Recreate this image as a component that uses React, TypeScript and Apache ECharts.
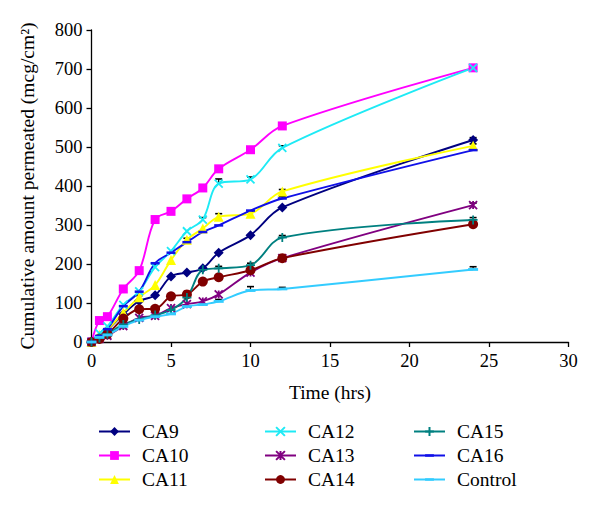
import React, { useEffect, useRef } from "react";
import * as echarts from "echarts";

const times = [0, 0.5, 1, 2, 3, 4, 5, 6, 7, 8, 10, 12, 24];

const ca9 = [0, 12, 30, 71, 105, 120, 168, 178, 189, 229, 274, 345, 518];
const ca10 = [0, 55, 65, 136, 183, 314, 335, 367, 395, 444, 493, 554, 703];
const ca11 = [0, 18, 32, 75, 115, 146, 210, 262, 291, 321, 329, 386, 503];
const ca12 = [0, 22, 40, 95, 130, 192, 233, 284, 314, 406, 417, 498, 703];
const ca13 = [0, 8, 16, 41, 62, 67, 87, 97, 104, 122, 178, 215, 351];
const ca14 = [0, 8, 20, 60, 84, 85, 117, 122, 155, 166, 184, 215, 302];
const ca15 = [0, 10, 20, 45, 58, 69, 82, 114, 185, 189, 197, 268, 313];
const ca16 = [0, 15, 33, 92, 129, 202, 229, 256, 282, 299, 337, 368, 492];
const control = [0, 12, 18, 40, 56, 65, 72, 91, 96, 104, 132, 136, 186];

// upper error-bar lengths (only those visible in the picture)
const ca9Err = [0, 0, 0, 0, 0, 0, 0, 0, 0, 0, 0, 0, 6];
const ca10Err = [0, 0, 0, 0, 0, 0, 0, 0, 0, 0, 0, 0, 0];
const ca11Err = [0, 0, 0, 0, 4, 0, 0, 4, 0, 8, 6, 5, 5];
const ca12Err = [0, 0, 0, 0, 0, 8, 0, 0, 5, 12, 6, 5, 0];
const ca13Err = [0, 0, 0, 0, 0, 0, 0, 0, 0, 0, 0, 0, 5];
const ca14Err = [0, 0, 0, 0, 0, 0, 0, 0, 0, 0, 0, 0, 0];
const ca15Err = [0, 0, 0, 0, 0, 0, 0, 0, 5, 5, 5, 5, 6];
const ca16Err = [0, 0, 0, 0, 0, 0, 0, 0, 0, 0, 0, 5, 0];
const controlErr = [0, 0, 0, 0, 0, 0, 0, 0, 0, 5, 10, 4, 7];

const xTicks = { min: 0, max: 30, interval: 5 };
const yTicks = { min: 0, max: 800, interval: 100 };

const FONT = "Liberation Serif";

const xPath = "path://M0,0L10,10M10,0L0,10";
const starPath = "path://M0,0L10,10M10,0L0,10M5,0L5,10";
const plusPath = "path://M5,0L5,10M0,5L10,5";
const dashPath = "path://M0,0M10,10M0,3.6H10V6.4H0Z";

type S = {
  name: string;
  data: number[];
  err: number[];
  color: string;
  symbol: string;
  size: number;
  stroke?: boolean;
};

const seriesDefs: S[] = [
  { name: "CA9", data: ca9, err: ca9Err, color: "#000080", symbol: "diamond", size: 10 },
  { name: "CA10", data: ca10, err: ca10Err, color: "#FF00FF", symbol: "rect", size: 9 },
  { name: "CA11", data: ca11, err: ca11Err, color: "#FFFF00", symbol: "triangle", size: 10 },
  { name: "CA12", data: ca12, err: ca12Err, color: "#1EEAF5", symbol: xPath, size: 8, stroke: true },
  { name: "CA13", data: ca13, err: ca13Err, color: "#800080", symbol: starPath, size: 8, stroke: true },
  { name: "CA14", data: ca14, err: ca14Err, color: "#800000", symbol: "circle", size: 10 },
  { name: "CA15", data: ca15, err: ca15Err, color: "#008080", symbol: plusPath, size: 9, stroke: true },
  { name: "CA16", data: ca16, err: ca16Err, color: "#1010E8", symbol: dashPath, size: 9 },
  { name: "Control", data: control, err: controlErr, color: "#33CCFF", symbol: dashPath, size: 10 },
];

export default function App() {
  const ref = useRef<HTMLDivElement>(null);
  useEffect(() => {
    if (!ref.current) return;
    const chart = echarts.init(ref.current, null, { renderer: "svg" });
    const lineSeries = seriesDefs.map((d) => ({
      name: d.name,
      type: "line",
      data: d.data.map((v, i) => [times[i], v]),
      smooth: 0.35,
      symbol: d.symbol,
      symbolSize: d.size,
      showSymbol: true,
      lineStyle: { color: d.color, width: 1.9 },
      itemStyle: d.stroke
        ? { color: "none", borderColor: d.color, borderWidth: 1.8 }
        : { color: d.color, borderColor: d.color, borderWidth: 0 },
      emphasis: { disabled: true },
      z: 3,
    }));
    const errData: number[][] = [];
    seriesDefs.forEach((d) =>
      d.err.forEach((e, i) => {
        if (e > 0) errData.push([times[i], d.data[i], e]);
      })
    );
    const errSeries = {
      type: "custom",
      name: "err",
      data: errData,
      z: 2,
      silent: true,
      renderItem: (params: any, api: any) => {
        const x = api.value(0);
        const y = api.value(1);
        const e = api.value(2);
        const p0 = api.coord([x, y]);
        const p1 = api.coord([x, y + e]);
        return {
          type: "group",
          children: [
            {
              type: "line",
              shape: { x1: p0[0], y1: p0[1], x2: p1[0], y2: p1[1] },
              style: { stroke: "#000", lineWidth: 1.2 },
            },
            {
              type: "line",
              shape: { x1: p1[0] - 3.5, y1: p1[1], x2: p1[0] + 3.5, y2: p1[1] },
              style: { stroke: "#000", lineWidth: 1.6 },
            },
          ],
        };
      },
    };
    const legendBase = {
      orient: "vertical",
      padding: 0,
      itemWidth: 31,
      itemHeight: 11,
      itemGap: 3,
      textStyle: {
        fontFamily: FONT,
        fontSize: 19.5,
        color: "#000",
        lineHeight: 21,
        padding: [0, 0, 0, 7],
      },
      selectedMode: false,
    };
    chart.setOption({
      animation: false,
      backgroundColor: "#fff",
      grid: { left: 91.5, right: 31.5, top: 30, bottom: 171, containLabel: false },
      xAxis: {
        type: "value",
        min: xTicks.min,
        max: xTicks.max,
        interval: xTicks.interval,
        name: "Time (hrs)",
        nameLocation: "middle",
        nameGap: 40,
        nameTextStyle: { fontFamily: FONT, fontSize: 19.5, color: "#000" },
        axisLine: { lineStyle: { color: "#000", width: 1.3 } },
        axisTick: { show: true, inside: false, length: 5, lineStyle: { color: "#000", width: 1.3 } },
        axisLabel: { fontFamily: FONT, fontSize: 18.5, color: "#000", margin: 9 },
        splitLine: { show: false },
      },
      yAxis: {
        type: "value",
        min: yTicks.min,
        max: yTicks.max,
        interval: yTicks.interval,
        name: "Cumulative amount permeated (mcg/cm²)",
        nameLocation: "middle",
        nameRotate: 90,
        nameGap: 54,
        nameTextStyle: { fontFamily: FONT, fontSize: 19.5, color: "#000" },
        axisLine: { show: true, lineStyle: { color: "#000", width: 1.3 } },
        axisTick: { show: true, inside: false, length: 5, lineStyle: { color: "#000", width: 1.3 } },
        axisLabel: { fontFamily: FONT, fontSize: 18.5, color: "#000", margin: 9 },
        splitLine: { show: false },
      },
      legend: [
        { ...legendBase, left: 98, top: 421, data: ["CA9", "CA10", "CA11"] },
        { ...legendBase, left: 264, top: 421, data: ["CA12", "CA13", "CA14"] },
        { ...legendBase, left: 413, top: 421, data: ["CA15", "CA16", "Control"] },
      ],
      series: [errSeries, ...lineSeries],
    });
    return () => chart.dispose();
  }, []);
  return (
    <div
      ref={ref}
      style={{ position: "fixed", left: 0, top: 0, width: 600, height: 513, background: "#fff" }}
    />
  );
}
